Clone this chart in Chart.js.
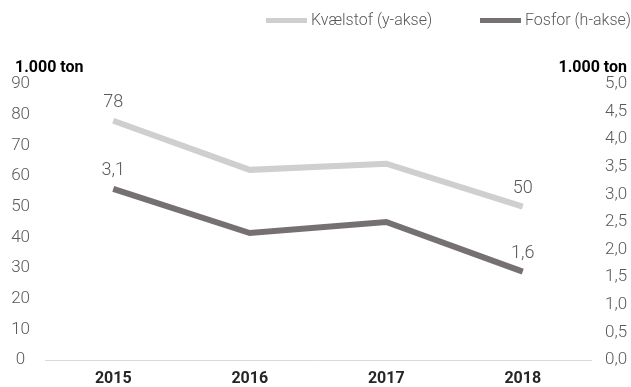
<!DOCTYPE html>
<html>
<head>
<meta charset="utf-8">
<script src="https://cdn.jsdelivr.net/npm/chart.js@4/dist/chart.umd.min.js"></script>
<style>
  html, body { margin: 0; padding: 0; background: #fff; }
  #wrap { width: 631px; height: 387px; position: relative; }
</style>
</head>
<body>
<div id="wrap"><canvas id="chart"></canvas></div>
<script>
// ── data ──
const years = ['2015', '2016', '2017', '2018'];
const kvaelstof = [78, 62, 64, 50];       // 1.000 ton, venstre akse
const fosfor = [3.1, 2.3, 2.5, 1.6];      // 1.000 ton, højre akse
const seriesNames = ['Kvælstof (y-akse)', 'Fosfor (h-akse)'];
const unitLabel = '1.000 ton';

const LIGHT = '#d0cece';
const DARK = '#767171';
const TEXT = '#595959';
const FONT = "Roboto, 'Noto Sans', sans-serif";

const fmt = v => v.toFixed(1).replace('.', ',');

// end-point labels, legend and unit titles
const extras = {
  id: 'extras',
  afterDatasetsDraw(chart) {
    const ctx = chart.ctx;
    ctx.save();
    ctx.fillStyle = TEXT;
    ctx.font = '300 18px ' + FONT;
    ctx.textAlign = 'center';
    ctx.textBaseline = 'middle';
    chart.data.datasets.forEach((ds, i) => {
      const meta = chart.getDatasetMeta(i);
      [0, ds.data.length - 1].forEach(j => {
        const pt = meta.data[j];
        const txt = i === 0 ? String(ds.data[j]) : fmt(ds.data[j]);
        ctx.fillText(txt, pt.x, pt.y - 18);
      });
    });

    // legend
    const items = [
      { x: 266, w: 41, color: LIGHT, text: seriesNames[0] },
      { x: 480, w: 41, color: DARK, text: seriesNames[1] }
    ];
    ctx.font = '300 16px ' + FONT;
    ctx.textAlign = 'left';
    items.forEach(it => {
      ctx.fillStyle = it.color;
      ctx.fillRect(it.x, 18, it.w, 5);
      ctx.fillStyle = TEXT;
      ctx.fillText(it.text, it.x + it.w + 4, 20.5);
    });

    // unit titles
    ctx.fillStyle = '#000';
    ctx.font = 'bold 16px ' + FONT;
    ctx.fillText(unitLabel, 15, 68);
    ctx.textAlign = 'right';
    ctx.fillText(unitLabel, 627, 68);
    ctx.restore();
  }
};

new Chart(document.getElementById('chart'), {
  type: 'line',
  data: {
    labels: years,
    datasets: [
      {
        label: seriesNames[0],
        data: kvaelstof,
        yAxisID: 'y',
        borderColor: LIGHT,
        borderWidth: 6,
        pointRadius: 0,
        tension: 0,
        fill: false
      },
      {
        label: seriesNames[1],
        data: fosfor,
        yAxisID: 'y1',
        borderColor: DARK,
        borderWidth: 6,
        pointRadius: 0,
        tension: 0,
        fill: false
      }
    ]
  },
  options: {
    responsive: true,
    maintainAspectRatio: false,
    animation: false,
    layout: { padding: { top: 84, left: 0, right: 0, bottom: 0 } },
    plugins: {
      legend: { display: false },
      tooltip: { enabled: false }
    },
    scales: {
      x: {
        offset: true,
        grid: { display: false, drawTicks: false },
        border: { display: true, color: '#d9d9d9', width: 1 },
        ticks: {
          color: '#262626',
          font: { family: FONT, size: 16, weight: 'bold' },
          padding: 9
        },
        afterFit(s) { s.height = 27; }
      },
      y: {
        position: 'left',
        min: 0,
        max: 90,
        grid: { display: false, drawTicks: false },
        border: { display: false },
        ticks: {
          stepSize: 10,
          color: TEXT,
          crossAlign: 'center',
          padding: 15,
          font: { family: FONT, size: 17, weight: 300 }
        },
        afterFit(s) { s.width = 45; }
      },
      y1: {
        position: 'right',
        min: 0,
        max: 5,
        grid: { display: false, drawTicks: false },
        border: { display: false },
        ticks: {
          stepSize: 0.5,
          color: TEXT,
          crossAlign: 'center',
          padding: 14,
          font: { family: FONT, size: 17, weight: 300 },
          callback: v => fmt(v)
        },
        afterFit(s) { s.width = 40; }
      }
    }
  },
  plugins: [extras]
});
</script>
</body>
</html>
